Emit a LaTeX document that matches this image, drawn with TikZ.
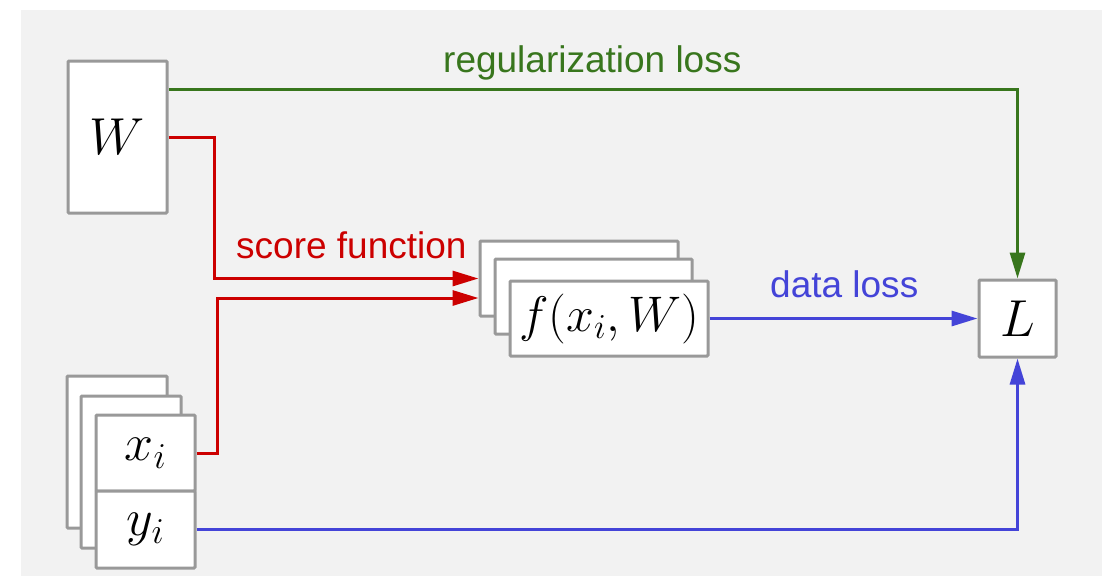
\documentclass[tikz,border=0pt]{standalone}
\usepackage{fix-cm}
\usepackage{fontspec}
\setmainfont{Liberation Sans}
\usetikzlibrary{arrows.meta,calc}
\definecolor{bgc}{HTML}{F2F2F2}
\definecolor{boxc}{HTML}{999999}
\definecolor{regc}{HTML}{38761D}
\definecolor{scorec}{HTML}{CC0000}
\definecolor{datac}{HTML}{4444D8}
\tikzset{
  box/.style={draw=boxc, line width=3pt, fill=white, rounded corners=1pt, inner sep=0pt,
    font=\fontsize{52}{60}\selectfont},
  conn/.style={line width=3pt},
  tip/.style={-{Triangle[length=26pt,width=15pt]}},
  lbl/.style={anchor=base west, inner sep=0pt, font=\fontsize{37}{44}\selectfont},
}
\begin{document}
\begin{tikzpicture}[x=1pt,y=-1pt]
\useasboundingbox (0,0) rectangle (1107,576);
\fill[bgc] (21,10) rectangle (1102,576);
% W
\node[box, minimum width=99pt, minimum height=152pt] (W) at (117.5,137) {$W$};
% x_i / y_i stack
\node[box, minimum width=100pt, minimum height=152pt] (xb) at (117,452) {};
\node[box, minimum width=100pt, minimum height=152pt] (xm) at (131,472) {};
\node[box, minimum width=99pt, minimum height=76pt] (xi) at (145.5,453) {$x_i$};
\node[box, minimum width=99pt, minimum height=77pt] (yi) at (145.5,529.5) {$y_i$};
% f stack
\node[box, minimum width=198pt, minimum height=75pt] (fb) at (579,278.5) {};
\node[box, minimum width=197pt, minimum height=75pt] (fm) at (593.5,296.5) {};
\node[box, minimum width=198pt, minimum height=75pt, font=\fontsize{50}{58}\selectfont] (f) at (609,318.5) {$f(x_i,W)$};
% L
\node[box, minimum width=77pt, minimum height=77pt] (L) at (1017.5,318.5) {$L$};
% helper coordinates
\coordinate (g1) at (1017.5,89);
\coordinate (fin2) at ($(fb.west)+(0,19.5)$);
% connectors
\draw[conn, regc, tip] (W.east |- g1) -- (g1) -- (L.north);
\draw[conn, scorec, tip] (W.east) -- ++(46,0) |- (fb.west);
\draw[conn, scorec, tip] (xi.east) -- ++(21,0) |- (fin2);
\draw[conn, datac, tip] (f.east) -- (L.west);
\draw[conn, datac, tip] (yi.east) -| (L.south);
% labels
\node[lbl, text=regc] (lreg) at (443,72) {regularization loss};
\node[lbl, text=scorec] (lscore) at (236,258) {score function};
\node[lbl, text=datac] (ldata) at (770,297) {data loss};
\end{tikzpicture}
\end{document}
